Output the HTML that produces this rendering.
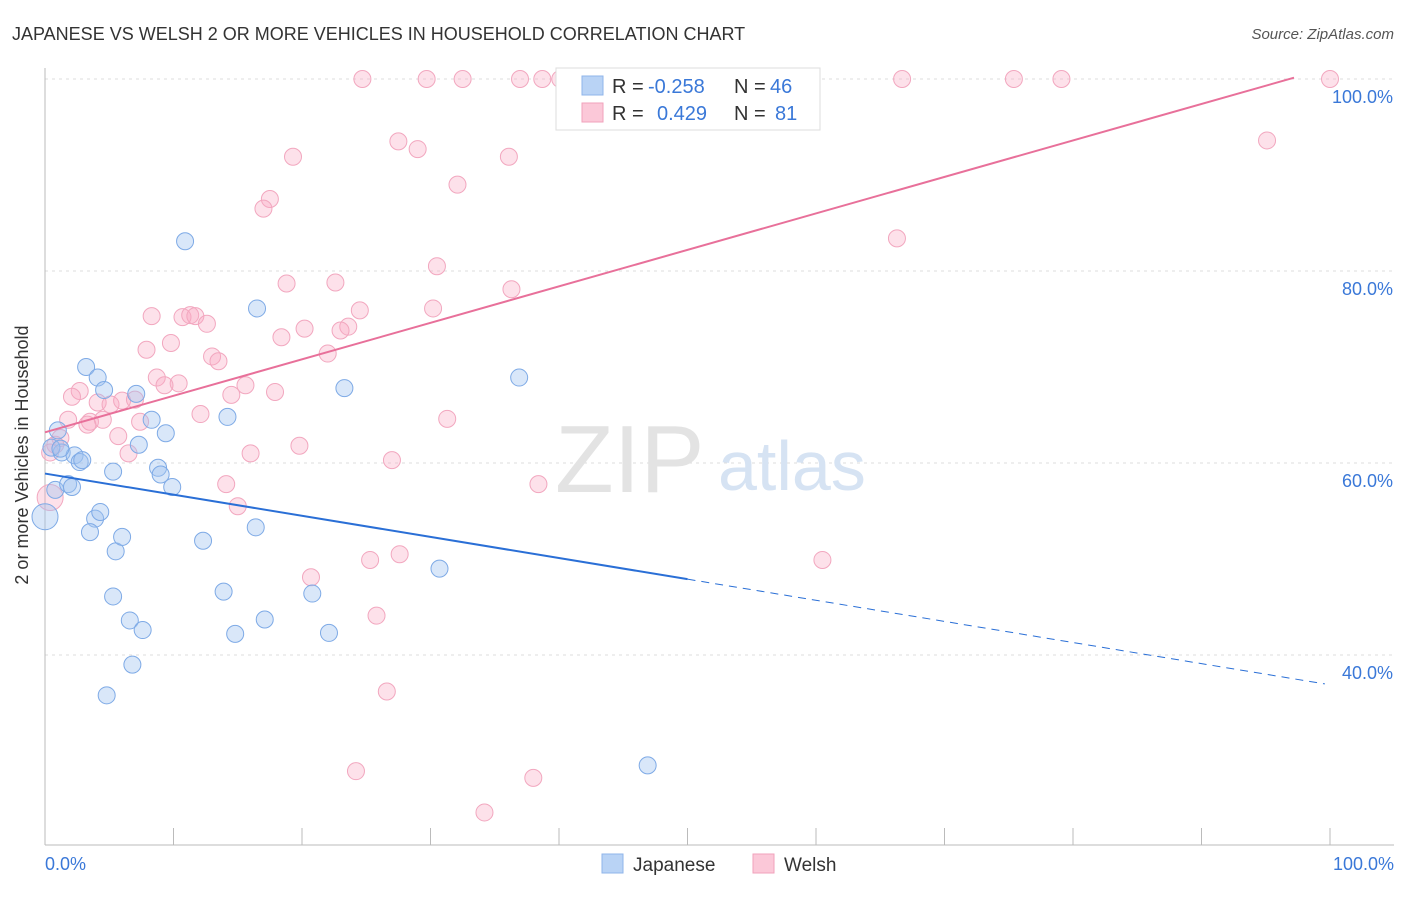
<!DOCTYPE html>
<html><head><meta charset="utf-8"><style>
body{margin:0;background:#fff;font-family:"Liberation Sans",sans-serif}
svg text{font-family:"Liberation Sans",sans-serif}
</style></head><body>
<svg id="chart" width="1406" height="892" xmlns="http://www.w3.org/2000/svg">
<text x="12" y="40" font-size="18" fill="#333">JAPANESE VS WELSH 2 OR MORE VEHICLES IN HOUSEHOLD CORRELATION CHART</text>
<text x="1394" y="39" font-size="15" fill="#555" text-anchor="end" font-style="italic">Source: ZipAtlas.com</text>
<g id="grid"></g>
<text x="555" y="492" font-size="96" fill="#e3e3e3" font-family="Liberation Serif">ZIP</text>
<text x="718" y="490" font-size="70" fill="#d6e3f3">atlas</text>
<g id="pts"></g>
<g id="lines"></g>
<text x="28" y="455" font-size="18" fill="#333" text-anchor="middle" transform="rotate(-90 28 455)">2 or more Vehicles in Household</text>
<text x="45" y="870" font-size="18" fill="#3a78d8">0.0%</text>
<text x="1394" y="870" font-size="18" fill="#3a78d8" text-anchor="end">100.0%</text>
<g>
<rect x="556" y="68" width="264" height="62" fill="#fff" stroke="#ddd"/>
<rect x="582" y="76" width="21" height="19" fill="#b9d3f5" stroke="#8fb5ea"/>
<rect x="582" y="103" width="21" height="19" fill="#fbc8d8" stroke="#f0a2bb"/>
<text x="612" y="93" font-size="20" fill="#333">R =</text><text x="648" y="93" font-size="20" fill="#3a78d8">-0.258</text>
<text x="734" y="93" font-size="20" fill="#333">N =</text><text x="770" y="93" font-size="20" fill="#3a78d8">46</text>
<text x="612" y="120" font-size="20" fill="#333">R =</text><text x="657" y="120" font-size="20" fill="#3a78d8">0.429</text>
<text x="734" y="120" font-size="20" fill="#333">N =</text><text x="775" y="120" font-size="20" fill="#3a78d8">81</text>
</g>
<g>
<rect x="602" y="854" width="21" height="19" fill="#b9d3f5" stroke="#8fb5ea"/>
<text x="633" y="871" font-size="19" fill="#333">Japanese</text>
<rect x="753" y="854" width="21" height="19" fill="#fbc8d8" stroke="#f0a2bb"/>
<text x="784" y="871" font-size="19" fill="#333">Welsh</text>
</g>
</svg>
<script>
const yTicks=[40,60,80,100];
const xTicks=[0,10,20,30,40,50,60,70,80,90,100];
const japX=[0,0.8,1,1.3,1.8,2.1,2.3,2.7,2.9,3.2,4.1,4.6,3.9,4.3,3.5,5.3,5.5,6,5.3,6.6,6.8,4.8,7.6,7.1,7.3,8.3,8.8,9,9.4,9.9,10.9,12.3,13.9,14.2,14.8,16.4,16.5,17.1,20.8,22.1,23.3,30.7,36.9,46.9,0.5,1.2];
const japY=[54.4,57.2,63.4,61.1,57.8,57.5,60.8,60.1,60.3,70,68.9,67.6,54.2,54.9,52.8,59.1,50.8,52.3,46.1,43.6,39,35.8,42.6,67.2,61.9,64.5,59.5,58.8,63.1,57.5,83.1,51.9,46.6,64.8,42.2,53.3,76.1,43.7,46.4,42.3,67.8,49,68.9,28.5,61.6,61.5];
const welX=[24.7,29.7,32.5,36.966,38.7,40.1,41.2,43.9,47.4,48.3,66.7,75.4,79.1,100,95.1,66.3,60.5,27.5,29,19.3,32.1,36.1,17.5,17,30.5,36.3,18.8,22.6,30.2,24.5,23.6,23,20.2,18.4,22,8.3,10.7,11.3,11.7,12.6,9.8,7.9,13,13.5,15.6,17.9,14.5,8.7,10.4,9.3,2.7,2.1,4.1,5.1,6,7,12.1,7.4,5.7,1.8,3.5,3.3,4.5,1.2,0.8,0.4,0.4,6.5,16,19.8,27,31.3,14.1,15,38.4,25.3,27.6,20.7,25.8,26.6,24.2,38,34.2];
const welY=[100,100,100,100,100,100,100,100,100,100,100,100,100,100,93.6,83.4,49.9,93.5,92.7,91.9,89,91.9,87.5,86.5,80.5,78.1,78.7,78.8,76.1,75.9,74.2,73.8,74,73.1,71.4,75.3,75.2,75.4,75.3,74.5,72.5,71.8,71.1,70.6,68.1,67.4,67.1,68.9,68.3,68.1,67.5,66.9,66.3,66.1,66.5,66.6,65.1,64.3,62.8,64.5,64.3,64,64.5,62.6,61.9,61.1,56.4,61,61,61.8,60.3,64.6,57.8,55.5,57.8,49.9,50.5,48.1,44.1,36.2,27.9,27.2,23.6];
const X=v=>45+v*12.85, Y=v=>79+(100-v)*9.6;
const NS='http://www.w3.org/2000/svg';
function mk(t,a,p){const e=document.createElementNS(NS,t);for(const k in a)e.setAttribute(k,a[k]);p.appendChild(e);return e;}
const grid=document.getElementById('grid');
yTicks.forEach(t=>{
 const l=mk('line',{x1:45,x2:1394,y1:Y(t),y2:Y(t),stroke:'#ddd','stroke-dasharray':'3,4'},grid);
 
 const tx=mk('text',{x:1393,y:Y(t)+24,'font-size':18,fill:'#3a78d8','text-anchor':'end'},grid);tx.textContent=t.toFixed(1)+'%';
 
});
const ax=mk('line',{x1:45,x2:1394,y1:845,y2:845,stroke:'#bbb'},grid);

const ay=mk('line',{x1:45,x2:45,y1:68,y2:845,stroke:'#bbb'},grid);

xTicks.forEach(t=>{const l=mk('line',{x1:X(t),x2:X(t),y1:828,y2:845,stroke:'#bbb'},grid);
 });
const pts=document.getElementById('pts');
welX.forEach((x,i)=>{const c=mk('circle',{cx:X(x),cy:Y(welY[i]),r:i==66?13:8.5,fill:'rgba(248,170,196,0.35)',stroke:'#f2a7bf','stroke-width':1},pts);
 });
japX.forEach((x,i)=>{const c=mk('circle',{cx:X(x),cy:Y(japY[i]),r:i==0?13:8.5,fill:'rgba(160,195,240,0.4)',stroke:'#7eaae6','stroke-width':1},pts);
 });
const lines=document.getElementById('lines');
const bl=v=>58.9-0.22*v, pl=v=>63.2+0.38*v;
let e=mk('line',{x1:X(0),y1:Y(bl(0)),x2:X(50),y2:Y(bl(50)),stroke:'#2a6fd6','stroke-width':2},lines);

e=mk('line',{x1:X(50),y1:Y(bl(50)),x2:X(99.6),y2:Y(bl(99.6)),stroke:'#2a6fd6','stroke-width':1,'stroke-dasharray':'8,6'},lines);

e=mk('line',{x1:X(0),y1:Y(pl(0)),x2:X(97.2),y2:Y(pl(97.2)),stroke:'#e8709a','stroke-width':2},lines);

</script>
</body></html>
